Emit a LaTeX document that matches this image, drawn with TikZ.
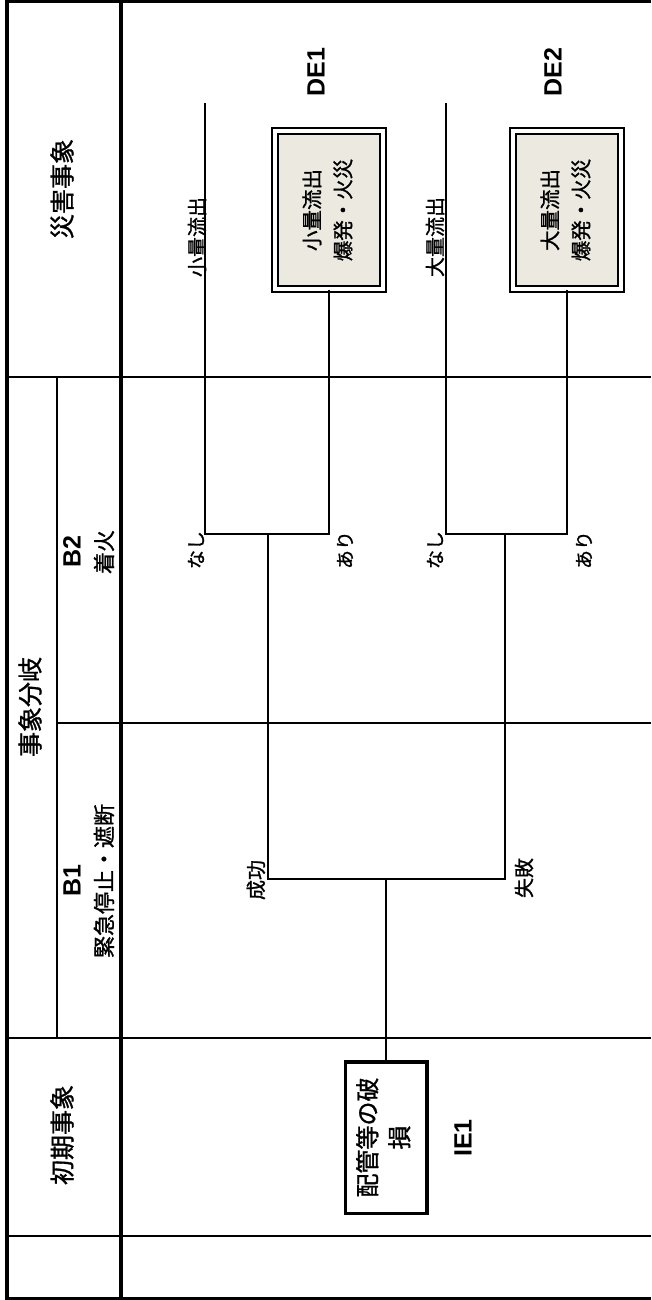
\documentclass[tikz,border=0pt]{standalone}
\usepackage{fontspec}
\usepackage{graphicx}
\newfontfamily\jpf[FakeBold=1.2]{Noto Sans CJK JP}
\newfontfamily\laf{Liberation Sans}
\definecolor{debeige}{HTML}{ECEAE0}
\begin{document}
\begin{tikzpicture}[x=1pt,y=-1pt,
  thinln/.style={line width=1.1pt},
  thickln/.style={line width=3.4pt},
  br/.style={line width=1.7pt},
  hdr/.style={rotate=90, inner sep=0pt, font=\jpf\fontsize{25}{30}\selectfont},
  sub/.style={rotate=90, inner sep=0pt, font=\jpf\fontsize{22}{26}\selectfont},
  lbl/.style={rotate=90, inner sep=0pt, font=\jpf\fontsize{20}{24}\selectfont},
  yn/.style={rotate=90, inner sep=0pt, font=\jpf\fontsize{19}{23}\selectfont},
  idl/.style={rotate=90, inner sep=0pt, font=\laf\bfseries\fontsize{25}{29}\selectfont},
  debox/.style={draw, line width=2pt, double=white, double distance=3.5pt, fill=debeige,
    minimum width=108pt, minimum height=158pt, inner sep=0pt,
    font=\jpf\fontsize{20.5}{31}\selectfont},
  iebox/.style={draw, line width=3.5pt, fill=white, minimum width=81.5pt, minimum height=151.5pt,
    inner sep=0pt, font=\jpf\fontsize{24}{32}\selectfont}]
\useasboundingbox (0,0) rectangle (651,1300);

% table grid
\draw[thinln] (7,377) -- (651,377);
\draw[thinln] (57,723) -- (651,723);
\draw[thinln] (7,1038) -- (651,1038);
\draw[thinln] (7,1236) -- (651,1236);
\draw[thinln] (57,377) -- (57,1038);
\draw[line width=3.2pt] (121,1.7) -- (121,1298.3);
\draw[thickln] (651,1.7) -- (7,1.7) -- (7,1298.3) -- (651,1298.3);

% headers
\node[hdr] (hd) at (62,189) {災害事象};
\node[hdr] (hb) at (30,707) {事象分岐};
\node[idl] (b2) at (72,552) {B2};
\node[sub] (b2t) at (104,552) {着火};
\node[idl] (b1) at (72,881) {B1};
\node[sub] (b1t) at (104,881) {緊急停止・遮断};
\node[hdr] (hi) at (62,1135) {初期事象};

% end states
\node[debox] (de1) at (329,210) {\rotatebox{90}{\begin{tabular}{@{}c@{}}小量流出\\爆発・火災\end{tabular}}};
\node[debox] (de2) at (567,210) {\rotatebox{90}{\begin{tabular}{@{}c@{}}大量流出\\爆発・火災\end{tabular}}};
\node[idl] (de1l) at (316,72) {DE1};
\node[idl] (de2l) at (553,72) {DE2};

% initiating event
\node[iebox] (ie) at (386,1137.5) {\rotatebox{90}{\begin{tabular}{@{}c@{}}配管等の破\\損\end{tabular}}};
\node[idl] (iel) at (463,1138) {IE1};

% tree coordinates
\coordinate (t1) at (205,103);
\coordinate (t2) at (446,103);
\coordinate (n1) at (205,534);
\coordinate (n2) at (446,534);
\coordinate (j1) at (268,534);
\coordinate (j2) at (505,534);
\coordinate (s1) at (268,879);
\coordinate (s2) at (505,879);

\draw[br] (t1) -- (n1) -- (n1 -| de1.south) -- (de1.south);
\draw[br] (t2) -- (n2) -- (n2 -| de2.south) -- (de2.south);
\draw[br] (j1) -- (s1) -- (s2) -- (j2);
\draw[br] (ie.north) -- (ie.north |- s1);

% branch labels
\node[lbl] (l1) at (197,237) {小量流出};
\node[lbl] (l2) at (435,237) {大量流出};
\node[yn] (na1) at (196,550) {なし};
\node[yn] (ar1) at (345,550) {あり};
\node[yn] (na2) at (435,550) {なし};
\node[yn] (ar2) at (584,550) {あり};
\node[lbl] (sc) at (256,880) {成功};
\node[lbl] (fl) at (524,878) {失敗};
\end{tikzpicture}
\end{document}
